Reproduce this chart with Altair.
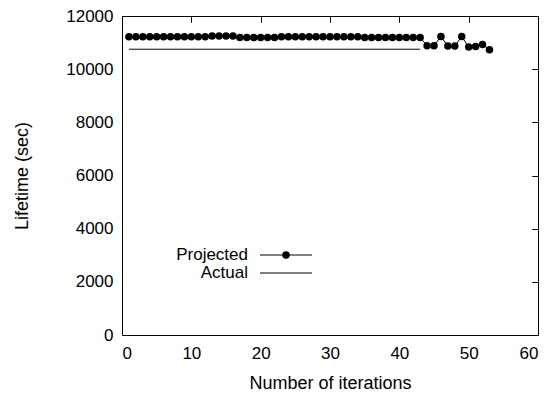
import altair as alt
import pandas as pd

# ---- data ----
iterations = list(range(1, 54))
projected = ([11220] * 12 + [11250] * 4 + [11190] * 6 + [11220] * 12 + [11190] * 9 +
             [10880, 10880, 11230, 10870, 10870, 11230, 10830, 10850, 10930, 10730])
actual_x = [1, 43]
actual_y = [10750, 10750]
legend_names = ["Projected", "Actual"]

x_ticks = [0, 10, 20, 30, 40, 50, 60]
y_ticks = [0, 2000, 4000, 6000, 8000, 10000, 12000]

proj_df = pd.DataFrame({"it": iterations, "val": projected})
act_df = pd.DataFrame({"it": actual_x, "val": actual_y})

FONT = "Liberation Sans"
FS = 17
TFS = 18
W, H = 416, 319

xs = alt.Scale(domain=[0, 60], nice=False, zero=False)
ys = alt.Scale(domain=[0, 12000], nice=False, zero=False)

def xaxis(**kw):
    base = dict(values=x_ticks, grid=False, domain=False, labelFont=FONT, titleFont=FONT,
                labelFontSize=FS, titleFontSize=TFS, labelColor="black", titleColor="black",
                tickColor="black", titleFontWeight="normal", format="d")
    base.update(kw)
    return alt.Axis(**base)

def yaxis(**kw):
    base = dict(values=y_ticks, grid=False, domain=False, labelFont=FONT, titleFont=FONT,
                labelFontSize=FS, titleFontSize=TFS, labelColor="black", titleColor="black",
                tickColor="black", titleFontWeight="normal", format="d")
    base.update(kw)
    return alt.Axis(**base)

# main layer with labelled axes (no ticks)
proj_line = alt.Chart(proj_df).mark_line(color="black", strokeWidth=1).encode(
    x=alt.X("it:Q", scale=xs, axis=xaxis(title="Number of iterations", ticks=False,
                                          labelPadding=10, titleX=W / 2, titleY=48,
                                          titleBaseline="middle", titleAlign="center")),
    y=alt.Y("val:Q", scale=ys, axis=yaxis(title="Lifetime (sec)", ticks=False,
                                           labelPadding=9, titleX=-100, titleY=H / 2,
                                           titleAngle=-90, titleAlign="center",
                                           titleBaseline="middle")),
)

# inward tick layers (bottom, top, left, right)
proj_pts = alt.Chart(proj_df).mark_circle(color="black", opacity=1, size=56).encode(
    x=alt.X("it:Q", scale=xs, axis=xaxis(title=None, labels=False, tickSize=6, offset=-6)),
    y=alt.Y("val:Q", scale=ys, axis=yaxis(title=None, labels=False, tickSize=6, offset=-6)),
)

act_line = alt.Chart(act_df).mark_line(color="black", strokeWidth=1).encode(
    x=alt.X("it:Q", scale=xs, axis=xaxis(title=None, labels=False, tickSize=6, offset=-6,
                                          orient="top")),
    y=alt.Y("val:Q", scale=ys, axis=yaxis(title=None, labels=False, tickSize=6, offset=-6,
                                           orient="right")),
)

# legend (gnuplot style: label left of sample)
leg_df = pd.DataFrame({"name": legend_names})
leg_layers = []
for name, ypix in zip(legend_names, [239, 257]):
    base = alt.Chart(leg_df).transform_filter(alt.datum.name == name)
    leg_layers.append(base.mark_text(align="right", baseline="middle", font=FONT,
                                     fontSize=FS, color="black").encode(
        x=alt.value(126), y=alt.value(ypix), text="name:N"))
    leg_layers.append(base.mark_rule(color="black", strokeWidth=1).encode(
        x=alt.value(138), x2=alt.value(190), y=alt.value(ypix)))
    if name == "Projected":
        leg_layers.append(base.mark_circle(color="black", opacity=1, size=56).encode(
            x=alt.value(164), y=alt.value(ypix)))

chart = alt.layer(proj_line, proj_pts, act_line, *leg_layers).resolve_axis(
    x="independent", y="independent"
).properties(
    width=W, height=H,
    padding={"left": 122, "top": 16, "right": 12, "bottom": 64},
    autosize="none",
    background="white",
).configure_view(stroke="black", strokeWidth=1)

chart.save("out.html", embed_options={"renderer": "svg", "actions": False})
